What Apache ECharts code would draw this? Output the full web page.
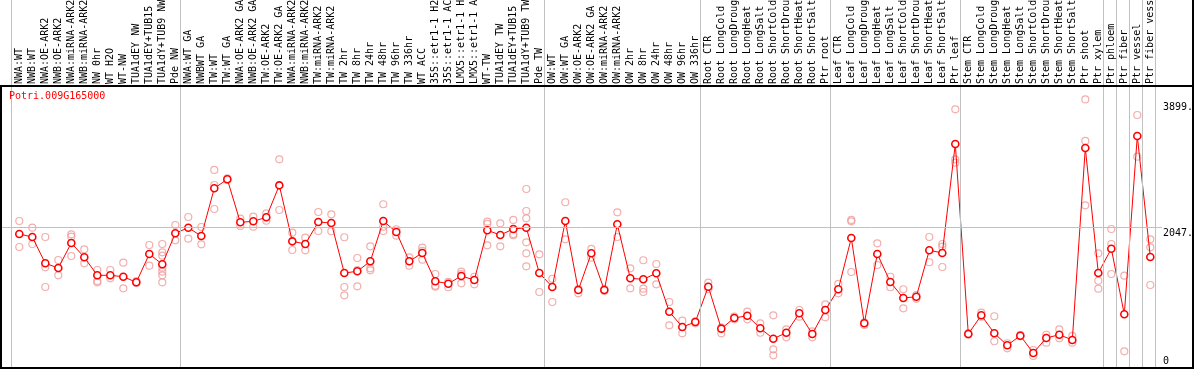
<!DOCTYPE html>
<html><head><meta charset="utf-8">
<script src="https://cdn.jsdelivr.net/npm/echarts@6/dist/echarts.min.js"></script>
<style>html,body{margin:0;padding:0;background:#fff}#c{width:1194px;height:370px}</style>
</head><body><div id="c"></div>
<script>
const geneId = 'Potri.009G165000';
const categories = [
 'NWA:WT','NWB:WT','NWA:OE-ARK2','NWB:OE-ARK2','NWA:miRNA-ARK2','NWB:miRNA-ARK2','NW 0hr','WT H2O','WT-NW',
 'TUA1dEY NW','TUA1dEY+TUB15 NW','TUA1dY+TUB9 NW','Pde NW',
 'NWA:WT GA','NWBWT GA','TW:WT','TW:WT GA','NWA:OE-ARK2 GA','NWB:OE-ARK2 GA','TW:OE-ARK2','TW:OE-ARK2 GA',
 'NWA:miRNA-ARK2 GA','NWB:miRNA-ARK2 GA','TW:miRNA-ARK2','TW:miRNA-ARK2 GA',
 'TW 2hr','TW 8hr','TW 24hr','TW 48hr','TW 96hr','TW 336hr','WT ACC',
 '35S::etr1-1 H2O','35S::etr1-1 ACC','LMX5::etr1-1 H2O','LMX5::etr1-1 ACC','WT-TW',
 'TUA1dEY TW','TUA1dEY+TUB15 TW','TUA1dY+TUB9 TW','Pde TW',
 'OW:WT','OW:WT GA','OW:OE-ARK2','OW:OE-ARK2 GA','OW:miRNA-ARK2','OW:miRNA-ARK2 GA',
 'OW 2hr','OW 8hr','OW 24hr','OW 48hr','OW 96hr','OW 336hr',
 'Root CTR','Root LongCold','Root LongDrought','Root LongHeat','Root LongSalt',
 'Root ShortCold','Root ShortDrought','Root ShortHeat','Root ShortSalt','Ptr root',
 'Leaf CTR','Leaf LongCold','Leaf LongDrought','Leaf LongHeat','Leaf LongSalt',
 'Leaf ShortCold','Leaf ShortDrought','Leaf ShortHeat','Leaf ShortSalt','Ptr leaf',
 'Stem CTR','Stem LongCold','Stem LongDrought','Stem LongHeat','Stem LongSalt',
 'Stem ShortCold','Stem ShortDrought','Stem ShortHeat','Stem ShortSalt','Ptr shoot',
 'Ptr xylem','Ptr phloem','Ptr fiber','Ptr vessel','Ptr fiber vessel'
];
const meanValues = [
 1945,1902,1520,1452,1815,1607,1346,1346,1325,1244,1655,1506,1956,
 2037,1916,2609,2740,2115,2130,2188,2652,1839,1800,2120,2105,
 1379,1404,1549,2134,1974,1549,1670,1259,1224,1336,1278,1999,1931,2018,2037,1379,
 1176,2134,1132,1665,1132,2086,1302,1288,1375,817,595,668,
 1180,571,726,759,576,425,512,794,494,842,
 1143,1887,649,1655,1249,1016,1035,1709,1670,3252,
 494,765,504,330,469,218,436,483,407,3194,
 1379,1732,780,3368,1611
];
const replicateValues = [
 [2134,1757],[2037,1800],[1902,1462,1176],[1568,1346],[1941,1906,1626],[1723,1520],
 [1423,1263,1244],[1423,1302],[1529,1157],[1260,1235],[1786,1485],
 [1800,1680,1630,1456,1398,1346,1244],[2076,1854],
 [2192,1877],[2047,1796],[2875,2657,2308],[2754,2730],[2168,2062],[2197,2051],
 [2246,2138],[3030,2294],[1964,1713],[1892,1709],[2265,1989],[2231,1985],
 [1898,1176,1055],[1597,1423,1186],[1767,1447,1418],[2377,2051,1989],[2014,1921],
 [1607,1485],[1747,1699,1572],[1365,1195,1180],[1249,1172],[1398,1365,1230],
 [1325,1215],[2124,2091,1781],[2101,1767],[2149,1945,1927],
 [2599,2279,2173,1825,1665,1476],[1651,1103],
 [1296,958],[2406,1868],[1147,1084],[1728,1601],[1147,1118],[2260,1902],
 [1447,1157],[1564,1151,1103],[1510,1215],[958,620],[687,504],[678,649],
 [1238,1143],[591,504],[745,707],[817,707],[649,512],[765,271,184],[562,446],
 [842,745],[533,446],[925,736],
 [1220,1084],[2149,2130,1394],[663,624],[1810,1495],[1325,1172],[1143,867],
 [1060,1006],[1902,1535],[1800,1761,1466],[3756,3030,2981],
 [505,483],[803,745],[751,388],[359,286],[480,460],[261,174],[483,367],
 [562,431],[465,367],[3899,3296,2362],
 [1665,1267,1151],[2018,1800,1365],[1340,242],[3673,3068],[1868,1752,1205]
];
const groupStarts = [0,13,41,53,63,73,84,85,86,87,88];
const rightLabels = [
 {value: 3899, text: '3899.'},
 {value: 2047, text: '2047.'},
 {value: 0, text: '0'}
];
const yMax = 4094;

// layout constants
const STEP = 13, FIRST_X = 19.3, G_LEFT = 1, G_RIGHT_PX = 1162;
const XMIN = -(FIRST_X - G_LEFT) / STEP;
const XMAX = XMIN + (G_RIGHT_PX - G_LEFT) / STEP;
const SEP_OFF = 8 / STEP;
const FONT = 'DejaVu Sans Mono';

const chart = echarts.init(document.getElementById('c'), null, {renderer: 'canvas'});

const repData = [];
replicateValues.forEach((arr, i) => arr.forEach(v => repData.push([i, v])));

// vertical nudges of the right-hand value labels (text, line height)
const labelShape = {
  3899: {fmt: t => '\n' + t, lh: 16},
  2047: {fmt: t => '\n' + t, lh: 12},
  0: {fmt: t => t + '\n', lh: 13}
};

chart.setOption({
  animation: false,
  backgroundColor: '#fff',
  title: {
    text: geneId, left: 9, top: 91, padding: 0,
    textStyle: {color: '#ff0000', fontSize: 10, fontFamily: FONT, fontWeight: 'normal'}
  },
  grid: [
    {left: G_LEFT, right: 1194 - G_RIGHT_PX, top: 86, bottom: 2, outerBoundsMode: 'none', containLabel: false},
    {left: G_LEFT, right: 1194 - G_RIGHT_PX, top: 0, bottom: 2, outerBoundsMode: 'none', containLabel: false},
    {left: FIRST_X - STEP / 2, right: 1194 - (FIRST_X - STEP / 2 + STEP * categories.length), top: 86, bottom: 2,
     outerBoundsMode: 'none', containLabel: false}
  ],
  xAxis: [
    {type: 'value', gridIndex: 0, min: XMIN, max: XMAX, show: false},
    {type: 'value', gridIndex: 1, min: XMIN, max: XMAX, show: false},
    {type: 'category', gridIndex: 2, position: 'top', data: categories, boundaryGap: true,
     axisLine: {show: false}, axisTick: {show: false}, splitLine: {show: false},
     axisLabel: {interval: 0, rotate: 90, margin: 2, fontFamily: FONT, fontSize: 10, color: '#000', hideOverlap: false}}
  ],
  yAxis: [
    {type: 'value', gridIndex: 0, min: 0, max: yMax, show: false},
    {type: 'value', gridIndex: 1, min: 0, max: 1, show: false},
    {type: 'value', gridIndex: 2, min: 0, max: 1, show: false}
  ],
  series: [
    {
      type: 'line', xAxisIndex: 1, yAxisIndex: 1, data: [], silent: true,
      markLine: {
        silent: true, symbol: 'none', animation: false,
        label: {show: false},
        lineStyle: {color: '#c0c0c0', width: 1, type: 'solid'},
        data: groupStarts.map(g => ({xAxis: g - SEP_OFF}))
      }
    },
    {
      type: 'scatter', xAxisIndex: 0, yAxisIndex: 0, data: repData, silent: true,
      symbol: 'circle', symbolSize: 7, z: 2,
      itemStyle: {color: 'rgba(255,255,255,0)', borderColor: '#f09a9a', borderWidth: 1.2}
    },
    {
      type: 'line', xAxisIndex: 0, yAxisIndex: 0, silent: true, z: 3,
      data: meanValues.map((v, i) => [i, v]),
      symbol: 'circle', symbolSize: 7, showAllSymbol: true,
      lineStyle: {color: '#ff0000', width: 1},
      itemStyle: {color: '#ffffff', borderColor: '#ff0000', borderWidth: 1.6},
      markLine: {
        silent: true, symbol: 'none', animation: false,
        data: rightLabels.map(r => ({
          yAxis: r.value,
          lineStyle: {color: r.value === 2047 ? '#c0c0c0' : 'rgba(0,0,0,0)', width: 1, type: 'solid'},
          label: {show: true, position: 'end', distance: 1, formatter: labelShape[r.value].fmt(r.text),
                  lineHeight: labelShape[r.value].lh,
                  color: '#000', fontFamily: FONT, fontSize: 10}
        }))
      }
    }
  ],
  graphic: [
    {type: 'rect', z: 100, silent: true, shape: {x: 1, y: 86, width: 1192, height: 282},
     style: {fill: 'none', stroke: '#000', lineWidth: 2}},
    {type: 'line', z: 100, silent: true, shape: {x1: 1193, y1: 0, x2: 1193, y2: 86},
     style: {stroke: '#000', lineWidth: 2}}
  ]
});
</script></body></html>
